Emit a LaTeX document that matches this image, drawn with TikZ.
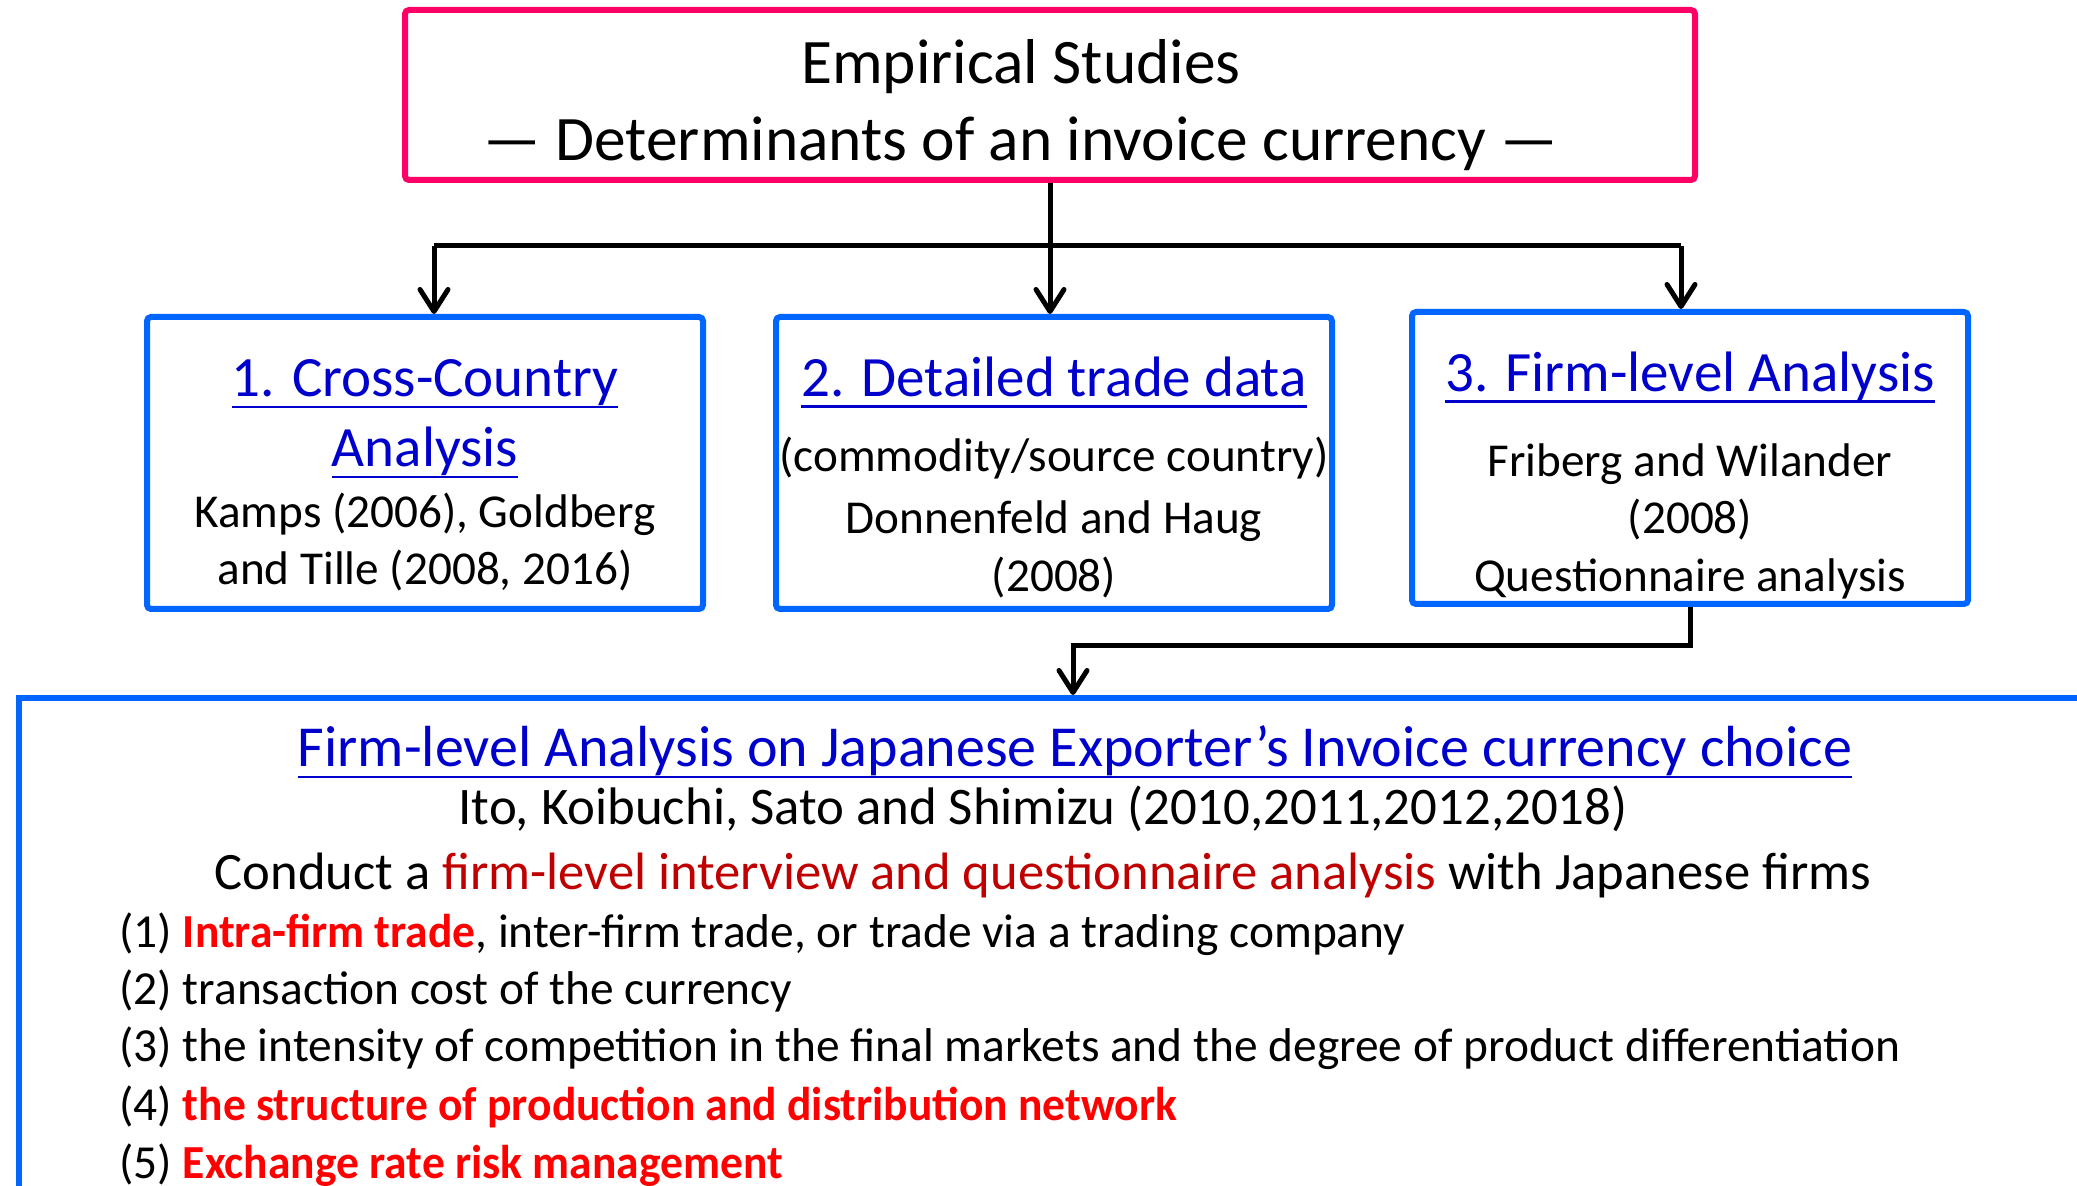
\documentclass[tikz,border=0pt]{standalone}
\usepackage{fontspec}
\setmainfont{Carlito}
\newfontfamily\strongfamily[FakeStretch=0.96]{Carlito}
\usetikzlibrary{arrows.meta,positioning}

\definecolor{headpink}{HTML}{FF0066}
\definecolor{boxblue}{HTML}{0066FF}
\definecolor{linkblue}{HTML}{0000CC}
\definecolor{darkred}{HTML}{C00000}
\definecolor{brightred}{HTML}{FF0000}
\newsavebox{\headingbox}
\newcommand{\fsize}[2]{\fontsize{#1}{#2}\selectfont}
\newcommand{\heading}[1]{\textcolor{linkblue}{\sbox{\headingbox}{#1}%
	\rlap{\rule[-0.2em]{\wd\headingbox}{1.3pt}}\usebox{\headingbox}}}
% first title line of a study box, with a strut that lowers the text
\newcommand{\boxtitle}[2]{{\fsize{28.5pt}{28.5pt}\rule{0pt}{#1}\heading{#2}}}
\newcommand{\stress}[1]{\textcolor{brightred}{\strongfamily\bfseries #1}}

\begin{document}
\begin{tikzpicture}[x=0.5pt,y=-0.5pt,
	headbox/.style={draw=headpink,line width=3pt,rounded corners=2pt,minimum width=645pt,minimum height=85pt},
	studybox/.style={draw=boxblue,line width=3pt,rounded corners=2pt,minimum width=278pt,minimum height=146pt,
		align=center,inner sep=0pt,font=\fsize{23.6pt}{28.5pt}},
	link/.style={line width=2.5pt},
	>={Straight Barb[length=11pt,width=14pt,round]}]
	\clip (0,0) rectangle (2077,1186);
	\node[headbox] (head) at (1050,95) {};
	\node[align=center,font=\fsize{31.7pt}{38.5pt}] (headtext) at (1021,105)
		{Empirical Studies\\--- Determinants of an invoice currency ---};
	\node[studybox] (cross) at (425,463)
		{\boxtitle{31pt}{1. Cross-Country}\\[6.5pt]{\fsize{28.5pt}{28.5pt}\heading{Analysis}}\\[2pt]
		 Kamps (2006), Goldberg\\and Tille (2008, 2016)};
	\node[studybox] (trade) at (1054,463)
		{\boxtitle{34pt}{2. Detailed trade data}\\[9pt]
		 (commodity/source country)\\[2.5pt]Donnenfeld and Haug\\[0.5pt](2008)};
	\node[studybox] (firm) at (1690,458)
		{\boxtitle{37pt}{3. Firm-level Analysis}\\[14pt]
		 Friberg and Wilander\\(2008)\\[0.5pt]Questionnaire analysis};
	\node[draw=boxblue,line width=3pt,anchor=north west,minimum width=1050pt,minimum height=260pt] (japan) at (16,695) {};
	\coordinate (split) at (1050,246);
	\coordinate (left) at (434,246);
	\coordinate (right) at (1681,246);
	\coordinate (turn) at (1073,646);
	\draw[link] (head) -- (split);
	\draw[link] (left) -- (right);
	\draw[link,->] (left) -- (left |- cross.north);
	\draw[link,->] (split) -- (split |- trade.north);
	\draw[link,->] (right) -- (right |- firm.north);
	\draw[link,->] (firm.south) |- (turn) -- (turn |- japan.north);
	% text of the lower box
	\node[font=\fsize{29pt}{34pt}] (jtitle) at (1075,752)
		{\heading{Firm-level Analysis on Japanese Exporter’s Invoice currency choice}};
	\node[font=\fsize{26.4pt}{30pt}] (jauthors) at (1043,809)
		{Ito, Koibuchi, Sato and Shimizu (2010,2011,2012,2018)};
	\node[font=\fsize{26.3pt}{30pt}] (jconduct) at (1043,875)
		{Conduct a \textcolor{darkred}{firm-level interview and questionnaire analysis} with Japanese firms};
	\foreach \n/\y/\txt in {1/934/{\stress{Intra-firm trade}, inter-firm trade, or trade via a trading company},
		2/991/{transaction cost of the currency},
		3/1048/{the intensity of competition in the final markets and the degree of product differentiation},
		4/1107/{\stress{the structure of production and distribution network}},
		5/1165/{\stress{Exchange rate risk management}}}
		\node[anchor=west,inner sep=0pt,font=\fsize{23.7pt}{28pt}] (item\n) at (119,\y) {(\n) \txt};
\end{tikzpicture}
\end{document}
